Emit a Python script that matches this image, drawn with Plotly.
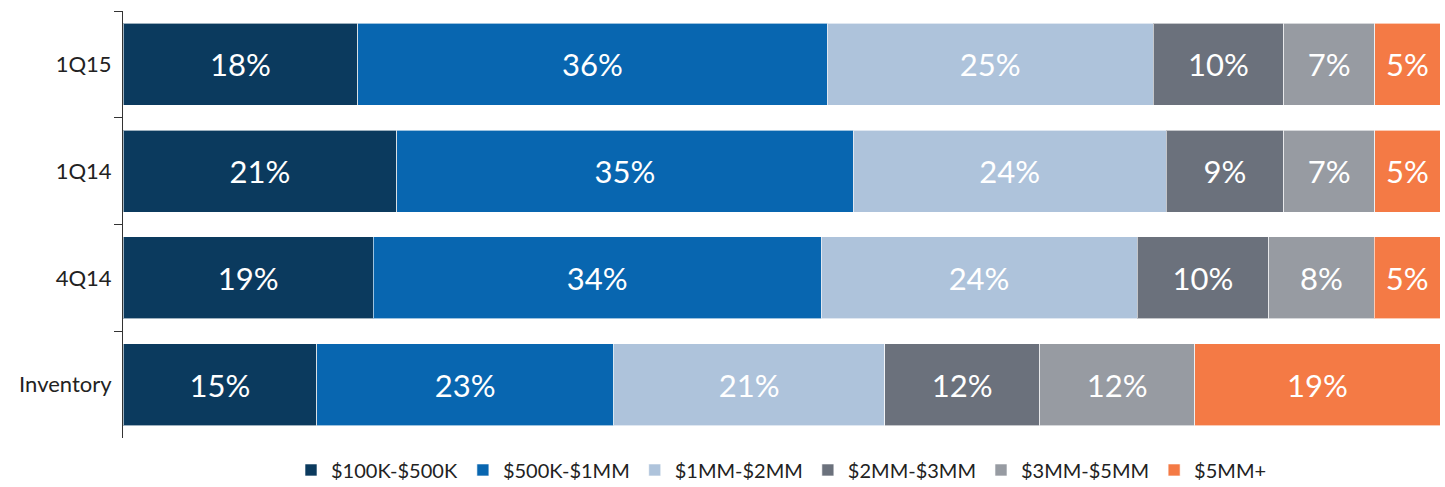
import plotly.graph_objects as go

categories = ["1Q15", "1Q14", "4Q14", "Inventory"]
series_names = ["$100K-$500K", "$500K-$1MM", "$1MM-$2MM", "$2MM-$3MM", "$3MM-$5MM", "$5MM+"]
values = {
    "$100K-$500K": [18, 21, 19, 15],
    "$500K-$1MM": [36, 35, 34, 23],
    "$1MM-$2MM": [25, 24, 24, 21],
    "$2MM-$3MM": [10, 9, 10, 12],
    "$3MM-$5MM": [7, 7, 8, 12],
    "$5MM+": [5, 5, 5, 19],
}
colors = ["#0B3A5E", "#0866B0", "#AEC3DB", "#6B717C", "#979BA2", "#F47A45"]

fig = go.Figure()
for name, col in zip(series_names, colors):
    vals = values[name]
    fig.add_trace(go.Bar(
        y=categories, x=vals, name=name, orientation="h",
        marker=dict(color=col, line=dict(color="rgba(255,255,255,0.6)", width=1)),
        text=[f"{v}%" for v in vals], textposition="inside",
        insidetextanchor="middle",
        textfont=dict(color="white", size=31, family="Lato"),
        hoverinfo="skip",
    ))

fig.update_layout(
    barmode="stack", barnorm="percent", bargap=0.23,
    width=1445, height=487,
    margin=dict(l=123, r=5, t=11, b=49),
    plot_bgcolor="white", paper_bgcolor="white",
    font=dict(family="Lato", color="#222222"),
    legend=dict(orientation="h", x=0.5, xanchor="center", yref="container", y=0.035, yanchor="middle",
                font=dict(size=20, color="#222222"), traceorder="normal",
                itemwidth=30),
    showlegend=True,
)
fig.update_xaxes(range=[0, 100], visible=False)
fig.update_yaxes(autorange="reversed", showline=True, linecolor="#333333", linewidth=1,
                 ticks="outside", tickson="boundaries", ticklen=8, tickcolor="#333333",
                 tickfont=dict(size=22, color="#222222"), ticklabelstandoff=6)

fig.write_html("out.html")
